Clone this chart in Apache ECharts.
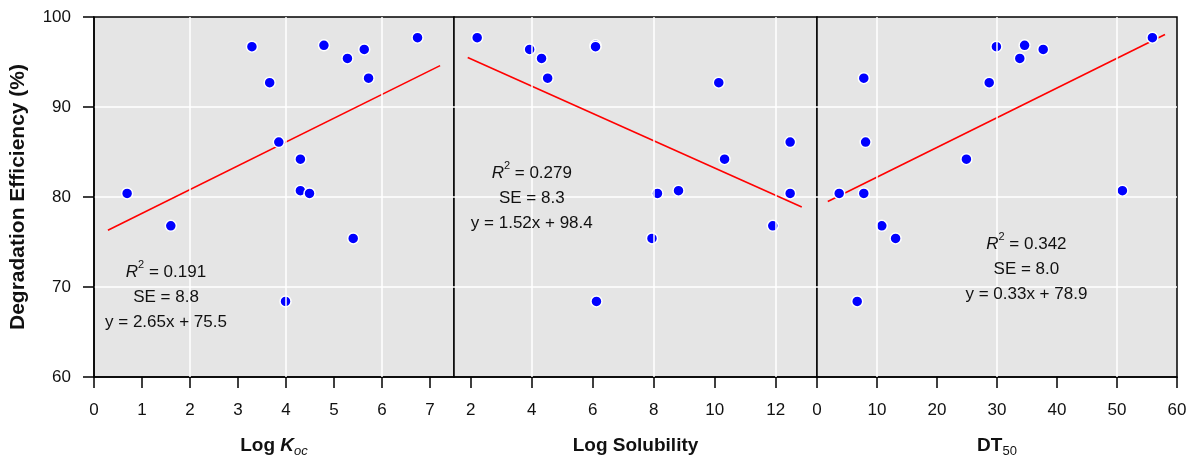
<!DOCTYPE html>
<html>
<head>
<meta charset="utf-8">
<script src="https://cdn.jsdelivr.net/npm/echarts@6/dist/echarts.min.js"></script>
<style>
html,body{margin:0;padding:0;background:#fff;}
#chart{width:1197px;height:459px;}
</style>
</head>
<body>
<div id="chart"></div>
<script>
// ---- Data ----
const efficiency    = [97.7, 96.85, 96.7, 96.4, 95.4, 93.2, 92.7, 86.1, 84.2, 80.7, 80.4, 80.4, 76.8, 75.4, 68.4];
const logKoc        = [6.74, 4.79, 3.29, 5.63, 5.28, 5.72, 3.66, 3.85, 4.30, 4.30, 0.69, 4.49, 1.60, 5.40, 3.99];
const logSolubility = [2.21, 6.09, 6.09, 3.93, 4.32, 4.52, 10.13, 12.47, 10.32, 8.81, 8.12, 12.47, 11.90, 7.94, 6.12];
const dt50          = [55.9, 34.6, 29.9, 37.7, 33.8, 7.8, 28.7, 8.1, 24.9, 50.9, 3.7, 7.8, 10.8, 13.1, 6.7];

const fitKoc = [[0.29, 76.3], [7.21, 94.6]];
const fitSol = [[1.90, 95.5], [12.85, 78.9]];
const fitDT  = [[1.8, 79.5], [58.0, 98.05]];

const annKoc = [1.5, 68.9];
const annSol = [4.0, 79.85];
const annDT  = [34.9, 72.0];

const statsKoc = ['0.191', '8.8', 'y = 2.65x + 75.5'];
const statsSol = ['0.279', '8.3', 'y = 1.52x + 98.4'];
const statsDT  = ['0.342', '8.0', 'y = 0.33x + 78.9'];

const ticksKoc = [0, 1, 2, 3, 4, 5, 6, 7];
const ticksSol = [2, 4, 6, 8, 10, 12];
const ticksDT  = [0, 10, 20, 30, 40, 50, 60];
const gridKoc = [2, 4, 6];
const gridSol = [4, 8, 12];
const gridDT  = [10, 30, 50];

// ---- Layout / style ----
const FONT = "'Liberation Sans', Arial, Helvetica, sans-serif";
const TXT = '#111111';
const panels = [
  {x: logKoc, fit: fitKoc, ann: annKoc, stats: statsKoc, ticks: ticksKoc, vgrid: gridKoc, min: 0, max: 7.5,
   grid: {left: 94, width: 360}, name: '{b|Log }{bi|K}{subi|oc}'},
  {x: logSolubility, fit: fitSol, ann: annSol, stats: statsSol, ticks: ticksSol, vgrid: gridSol, min: 1.45, max: 13.35,
   grid: {left: 454, width: 363}, name: '{b|Log Solubility}'},
  {x: dt50, fit: fitDT, ann: annDT, stats: statsDT, ticks: ticksDT, vgrid: gridDT, min: 0, max: 60,
   grid: {left: 817, width: 360}, name: '{b|DT}{sub|50}'}
];

const nameRich = {
  b:    {fontFamily: FONT, fontWeight: 'bold', fontSize: 19, color: TXT, lineHeight: 24, verticalAlign: 'middle'},
  bi:   {fontFamily: FONT, fontWeight: 'bold', fontStyle: 'italic', fontSize: 19, color: TXT, lineHeight: 24, verticalAlign: 'middle'},
  subi: {fontFamily: FONT, fontStyle: 'italic', fontSize: 13, color: TXT, lineHeight: 13, verticalAlign: 'bottom'},
  sub:  {fontFamily: FONT, fontSize: 13, color: TXT, lineHeight: 13, verticalAlign: 'bottom'}
};
const annRich = {
  n:   {fontFamily: FONT, fontSize: 17, color: TXT, lineHeight: 25, textBorderWidth: 0},
  i:   {fontFamily: FONT, fontSize: 17, fontStyle: 'italic', color: TXT, lineHeight: 25, textBorderWidth: 0},
  sup: {fontFamily: FONT, fontSize: 11, color: TXT, lineHeight: 14, verticalAlign: 'top', textBorderWidth: 0}
};

const grids = [], xAxes = [], yAxes = [], series = [];
panels.forEach((p, k) => {
  grids.push({left: p.grid.left, width: p.grid.width, top: 17, height: 360, show: true,
    backgroundColor: '#e5e5e5', borderColor: '#000', borderWidth: 1.5, outerBoundsMode: 'none', containLabel: false});
  xAxes.push({
    type: 'value', gridIndex: k, min: p.min, max: p.max,
    name: p.name, nameLocation: 'middle', nameGap: 57,
    nameTextStyle: {rich: nameRich},
    axisLine: {show: true, onZero: false, lineStyle: {color: '#000', width: 1.5}},
    axisTick: {show: true, length: 11, customValues: p.ticks, lineStyle: {color: '#000', width: 1.5}},
    axisLabel: {customValues: p.ticks, margin: 25, fontSize: 17, fontFamily: FONT, color: TXT,
                showMinLabel: true, showMaxLabel: true, hideOverlap: false},
    splitLine: {show: false}
  });
  yAxes.push({
    type: 'value', gridIndex: k, min: 60, max: 100, interval: 10,
    name: k === 0 ? 'Degradation Efficiency (%)' : '',
    nameLocation: 'middle', nameGap: 65,
    nameTextStyle: {fontFamily: FONT, fontWeight: 'bold', fontSize: 21, color: TXT},
    axisLine: {show: k === 0, lineStyle: {color: '#000', width: 1.5}},
    axisTick: {show: k === 0, length: 11, lineStyle: {color: '#000', width: 1.5}},
    axisLabel: {show: k === 0, margin: 23, fontSize: 17, fontFamily: FONT, color: TXT},
    splitLine: {show: true, showMinLine: false, showMaxLine: false, lineStyle: {color: '#ffffff', width: 1.5}}
  });
  series.push({
    type: 'line', xAxisIndex: k, yAxisIndex: k, data: [], z: 1, silent: true,
    markLine: {silent: true, symbol: 'none', animation: false, label: {show: false},
      lineStyle: {color: '#ffffff', width: 1.5, type: 'solid'},
      emphasis: {disabled: true},
      data: p.vgrid.map(v => ({xAxis: v}))}
  });
  series.push({
    type: 'line', xAxisIndex: k, yAxisIndex: k, data: p.fit, z: 3, showSymbol: false, silent: true,
    lineStyle: {color: '#ff0000', width: 1.6}, animation: false
  });
  series.push({
    type: 'scatter', xAxisIndex: k, yAxisIndex: k, z: 4, animation: false,
    data: p.x.map((v, i) => [v, efficiency[i]]),
    symbolSize: 11,
    itemStyle: {color: '#0000ff', borderColor: '#ffffff', borderWidth: 1.5, opacity: 1}
  });
  series.push({
    type: 'scatter', xAxisIndex: k, yAxisIndex: k, z: 5, silent: true, animation: false,
    data: [p.ann], symbolSize: 1, itemStyle: {color: 'transparent'},
    label: {show: true, position: 'inside', align: 'center', verticalAlign: 'middle',
      color: TXT, textBorderWidth: 0, opacity: 1,
      formatter: '{i|R}{sup|2}{n| = ' + p.stats[0] + '}\n{n|SE = ' + p.stats[1] + '}\n{n|' + p.stats[2] + '}',
      rich: annRich}
  });
});

const chart = echarts.init(document.getElementById('chart'), null, {renderer: 'canvas'});
chart.setOption({
  animation: false,
  backgroundColor: '#ffffff',
  textStyle: {fontFamily: FONT},
  grid: grids, xAxis: xAxes, yAxis: yAxes, series: series
});
</script>
</body>
</html>
